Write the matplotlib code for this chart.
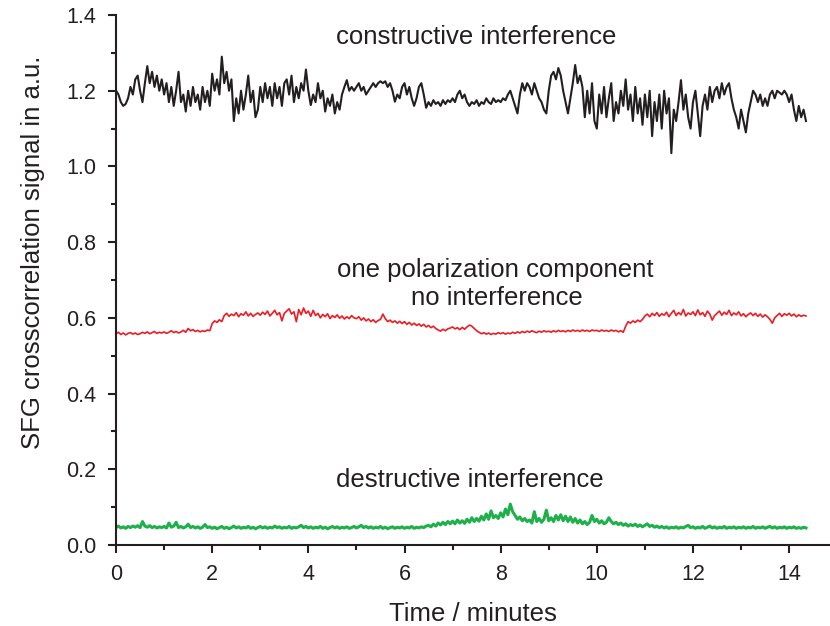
import numpy as np
import matplotlib
matplotlib.use("Agg")
import matplotlib.pyplot as plt
from matplotlib.ticker import MultipleLocator

plt.rcParams['font.family'] = ['Liberation Sans', 'DejaVu Sans']

# time axis: one value every 0.05 min, 0 ... 14.35 min
time_min = np.linspace(0, 14.35, 288)

constructive = [
    1.20, 1.19, 1.17, 1.16, 1.165, 1.18, 1.21, 1.19, 1.23, 1.24, 1.20, 1.17, 1.22, 1.265, 1.22, 1.25, 1.21, 1.24, 1.20, 1.23,
    1.19, 1.22, 1.17, 1.21, 1.16, 1.20, 1.25, 1.17, 1.19, 1.145, 1.20, 1.16, 1.21, 1.17, 1.19, 1.15, 1.21, 1.17, 1.20, 1.16,
    1.245, 1.20, 1.23, 1.19, 1.29, 1.22, 1.25, 1.20, 1.23, 1.12, 1.18, 1.14, 1.20, 1.15, 1.19, 1.24, 1.17, 1.20, 1.13, 1.15,
    1.21, 1.17, 1.22, 1.18, 1.21, 1.16, 1.22, 1.18, 1.21, 1.16, 1.22, 1.23, 1.19, 1.24, 1.17, 1.21, 1.18, 1.22, 1.20, 1.256,
    1.20, 1.162, 1.19, 1.17, 1.22, 1.18, 1.20, 1.145, 1.18, 1.16, 1.19, 1.14, 1.17, 1.15, 1.19, 1.21, 1.228, 1.20, 1.21, 1.20,
    1.21, 1.22, 1.20, 1.21, 1.19, 1.20, 1.21, 1.22, 1.21, 1.22, 1.225, 1.22, 1.225, 1.21, 1.22, 1.20, 1.171, 1.19, 1.18, 1.21,
    1.22, 1.19, 1.21, 1.18, 1.16, 1.18, 1.21, 1.22, 1.19, 1.155, 1.17, 1.16, 1.175, 1.165, 1.17, 1.16, 1.175, 1.165, 1.175, 1.17,
    1.18, 1.17, 1.19, 1.20, 1.18, 1.19, 1.17, 1.16, 1.17, 1.165, 1.175, 1.16, 1.17, 1.165, 1.18, 1.17, 1.165, 1.18, 1.17, 1.175,
    1.17, 1.18, 1.175, 1.19, 1.20, 1.18, 1.16, 1.14, 1.19, 1.22, 1.20, 1.22, 1.21, 1.19, 1.22, 1.20, 1.18, 1.17, 1.15, 1.14,
    1.20, 1.24, 1.25, 1.23, 1.26, 1.24, 1.20, 1.17, 1.14, 1.18, 1.22, 1.268, 1.22, 1.24, 1.21, 1.13, 1.20, 1.14, 1.22, 1.12,
    1.10, 1.19, 1.14, 1.21, 1.13, 1.18, 1.22, 1.12, 1.17, 1.14, 1.20, 1.16, 1.23, 1.15, 1.19, 1.12, 1.21, 1.14, 1.18, 1.11,
    1.19, 1.13, 1.20, 1.08, 1.17, 1.12, 1.19, 1.10, 1.20, 1.14, 1.18, 1.035, 1.15, 1.12, 1.17, 1.228, 1.15, 1.19, 1.13, 1.10,
    1.17, 1.20, 1.14, 1.08, 1.16, 1.19, 1.15, 1.21, 1.17, 1.20, 1.21, 1.18, 1.22, 1.19, 1.21, 1.22, 1.18, 1.15, 1.13, 1.10,
    1.15, 1.12, 1.09, 1.14, 1.17, 1.20, 1.19, 1.17, 1.19, 1.16, 1.18, 1.16, 1.19, 1.20, 1.18, 1.20, 1.195, 1.19, 1.20, 1.19,
    1.17, 1.19, 1.15, 1.12, 1.16, 1.13, 1.15, 1.12,
]

one_component = [
    0.558, 0.562, 0.556, 0.560, 0.555, 0.559, 0.561, 0.557, 0.560, 0.556, 0.558, 0.562, 0.559, 0.563, 0.558, 0.561, 0.564, 0.559, 0.562, 0.560,
    0.563, 0.559, 0.562, 0.566, 0.561, 0.564, 0.560, 0.563, 0.567, 0.562, 0.572, 0.566, 0.569, 0.564, 0.567, 0.563, 0.566, 0.564, 0.568, 0.566,
    0.585, 0.592, 0.588, 0.595, 0.590, 0.606, 0.612, 0.604, 0.610, 0.606, 0.614, 0.603, 0.611, 0.607, 0.616, 0.605, 0.612, 0.604, 0.609, 0.613,
    0.607, 0.615, 0.609, 0.618, 0.605, 0.612, 0.620, 0.608, 0.614, 0.592, 0.612, 0.618, 0.624, 0.610, 0.616, 0.590, 0.622, 0.608, 0.626, 0.612,
    0.618, 0.604, 0.620, 0.606, 0.612, 0.600, 0.609, 0.603, 0.611, 0.598, 0.606, 0.601, 0.608, 0.599, 0.605, 0.597, 0.603, 0.598, 0.606, 0.600,
    0.598, 0.603, 0.594, 0.600, 0.592, 0.597, 0.590, 0.595, 0.588, 0.593, 0.596, 0.610, 0.598, 0.590, 0.594, 0.588, 0.592, 0.586, 0.591, 0.585,
    0.590, 0.583, 0.588, 0.581, 0.586, 0.580, 0.584, 0.578, 0.583, 0.576, 0.580, 0.574, 0.578, 0.572, 0.568, 0.565, 0.570, 0.566, 0.571, 0.573,
    0.576, 0.571, 0.574, 0.569, 0.575, 0.570, 0.576, 0.581, 0.578, 0.572, 0.566, 0.562, 0.558, 0.561, 0.557, 0.560, 0.556, 0.559, 0.557, 0.561,
    0.558, 0.561, 0.557, 0.560, 0.558, 0.562, 0.559, 0.563, 0.560, 0.564, 0.561, 0.565, 0.562, 0.566, 0.563, 0.561, 0.565, 0.562, 0.566, 0.563,
    0.565, 0.562, 0.566, 0.563, 0.567, 0.564, 0.566, 0.563, 0.567, 0.564, 0.568, 0.565, 0.567, 0.564, 0.568, 0.565, 0.567, 0.564, 0.568, 0.566,
    0.567, 0.564, 0.568, 0.565, 0.567, 0.564, 0.568, 0.565, 0.567, 0.563, 0.566, 0.562, 0.578, 0.590, 0.586, 0.592, 0.588, 0.594, 0.590, 0.596,
    0.605, 0.610, 0.603, 0.612, 0.606, 0.614, 0.604, 0.611, 0.607, 0.615, 0.603, 0.612, 0.620, 0.606, 0.614, 0.608, 0.622, 0.605, 0.613, 0.609,
    0.616, 0.606, 0.621, 0.608, 0.614, 0.604, 0.618, 0.610, 0.594, 0.606, 0.612, 0.618, 0.607, 0.615, 0.609, 0.620, 0.606, 0.613, 0.608, 0.616,
    0.605, 0.611, 0.603, 0.609, 0.613, 0.606, 0.612, 0.604, 0.610, 0.602, 0.608, 0.603, 0.596, 0.586, 0.600, 0.606, 0.612, 0.604, 0.611, 0.607,
    0.612, 0.605, 0.610, 0.603, 0.608, 0.604, 0.607, 0.605,
]

destructive = [
    0.046, 0.050, 0.045, 0.048, 0.044, 0.049, 0.046, 0.050, 0.047, 0.051, 0.046, 0.062, 0.050, 0.047, 0.051, 0.046, 0.049, 0.045, 0.048, 0.046,
    0.049, 0.045, 0.058, 0.047, 0.050, 0.060, 0.046, 0.049, 0.045, 0.048, 0.055, 0.046, 0.049, 0.045, 0.048, 0.044, 0.047, 0.054, 0.046, 0.048,
    0.044, 0.047, 0.043, 0.046, 0.049, 0.044, 0.047, 0.043, 0.046, 0.050, 0.045, 0.048, 0.044, 0.047, 0.045, 0.049, 0.044, 0.047, 0.043, 0.046,
    0.049, 0.045, 0.048, 0.044, 0.047, 0.045, 0.050, 0.046, 0.048, 0.044, 0.047, 0.045, 0.049, 0.044, 0.047, 0.045, 0.048, 0.052, 0.046, 0.049,
    0.045, 0.048, 0.044, 0.047, 0.045, 0.049, 0.044, 0.047, 0.043, 0.046, 0.049, 0.045, 0.048, 0.044, 0.047, 0.045, 0.048, 0.044, 0.046, 0.049,
    0.045, 0.048, 0.052, 0.046, 0.049, 0.045, 0.048, 0.044, 0.047, 0.045, 0.049, 0.044, 0.047, 0.043, 0.046, 0.048, 0.044, 0.047, 0.045, 0.048,
    0.044, 0.047, 0.045, 0.049, 0.044, 0.047, 0.045, 0.048, 0.046, 0.050, 0.052, 0.048, 0.055, 0.050, 0.058, 0.053, 0.060, 0.054, 0.062, 0.056,
    0.063, 0.056, 0.066, 0.058, 0.064, 0.057, 0.068, 0.060, 0.072, 0.062, 0.070, 0.063, 0.076, 0.066, 0.082, 0.068, 0.090, 0.072, 0.078, 0.070,
    0.085, 0.074, 0.095, 0.080, 0.108, 0.088, 0.078, 0.068, 0.074, 0.064, 0.070, 0.062, 0.066, 0.058, 0.088, 0.062, 0.070, 0.060, 0.068, 0.092,
    0.064, 0.072, 0.062, 0.078, 0.066, 0.080, 0.064, 0.076, 0.062, 0.074, 0.060, 0.070, 0.058, 0.066, 0.056, 0.062, 0.054, 0.060, 0.078, 0.062,
    0.068, 0.058, 0.064, 0.056, 0.060, 0.072, 0.062, 0.056, 0.060, 0.054, 0.058, 0.052, 0.056, 0.050, 0.054, 0.051, 0.055, 0.049, 0.053, 0.048,
    0.052, 0.056, 0.049, 0.052, 0.047, 0.050, 0.046, 0.049, 0.045, 0.048, 0.044, 0.047, 0.045, 0.048, 0.044, 0.047, 0.045, 0.049, 0.052, 0.046,
    0.048, 0.044, 0.047, 0.045, 0.049, 0.044, 0.047, 0.050, 0.045, 0.048, 0.044, 0.047, 0.045, 0.049, 0.044, 0.047, 0.045, 0.048, 0.044, 0.047,
    0.045, 0.048, 0.044, 0.047, 0.045, 0.049, 0.044, 0.047, 0.045, 0.048, 0.044, 0.047, 0.049, 0.045, 0.048, 0.044, 0.047, 0.045, 0.048, 0.044,
    0.047, 0.045, 0.048, 0.044, 0.046, 0.044, 0.047, 0.045,
]

fig = plt.figure(figsize=(8.3, 6.26), dpi=100)
ax = fig.add_axes([0.1398, 0.1294, 0.8602, 0.8466])

ax.plot(time_min, constructive, color='#231f20', lw=1.5)
ax.plot(time_min, one_component, color='#ed1c24', lw=1.2)
ax.plot(time_min, destructive, color='#1db04b', lw=2.2)

txt = dict(ha='center', va='center', fontsize=18.5, color='#231f20')
ax.text(7.5, 1.342, 'constructive interference', **txt)
ax.text(7.88, 0.726, 'one polarization component', **txt)
ax.text(7.92, 0.652, 'no interference', **txt)
ax.text(7.36, 0.172, 'destructive interference', **txt)

ax.set_xlim(0, 14.85)
ax.set_ylim(0, 1.4)
ax.xaxis.set_major_locator(MultipleLocator(2))
ax.xaxis.set_minor_locator(MultipleLocator(1))
ax.yaxis.set_major_locator(MultipleLocator(0.2))
ax.yaxis.set_minor_locator(MultipleLocator(0.1))
ax.yaxis.set_major_formatter(plt.FormatStrFormatter('%.1f'))

for side in ['top', 'right']:
    ax.spines[side].set_visible(False)
for side in ['left', 'bottom']:
    ax.spines[side].set_linewidth(1.5)
    ax.spines[side].set_color('#231f20')

ax.tick_params(which='major', length=6, width=1.5, labelsize=15.5, colors='#231f20', pad=8)
ax.tick_params(which='minor', length=3.5, width=1.5, colors='#231f20')

ax.set_xlabel('Time / minutes', fontsize=18.5, color='#231f20', labelpad=12)
ax.set_ylabel('SFG crosscorrelation signal in a.u.', fontsize=18.5, color='#231f20')
ax.yaxis.set_label_coords(-0.099, 0.553)

fig.savefig('out.png', dpi=100)
